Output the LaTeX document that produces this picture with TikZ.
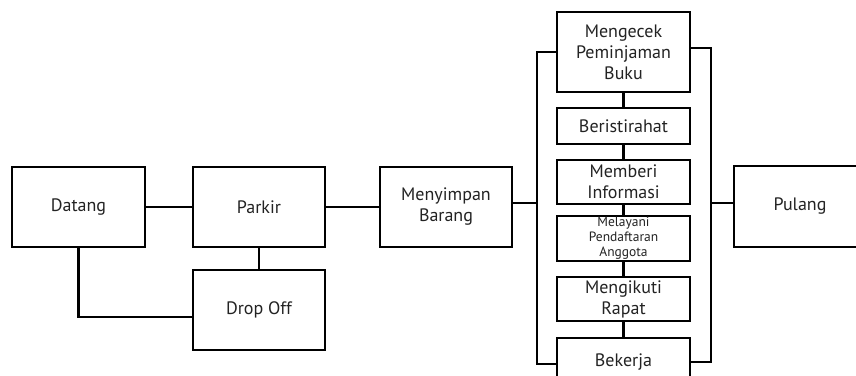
\documentclass[tikz,border=0pt]{standalone}
\usepackage{fontspec}
\setmainfont{PT Sans}
\usepackage{tikz}
\usetikzlibrary{positioning,calc}
\definecolor{inkgray}{RGB}{35,35,35}

\begin{document}
\begin{tikzpicture}[x=1pt,y=-1pt,
    stepbox/.style={draw=black,line width=2.2pt,fill=white,align=center,
      text=inkgray,font=\fontsize{18}{21}\selectfont,inner sep=0pt},
    link/.style={draw=black,line width=2.2pt}]
  \useasboundingbox (0,0) rectangle (856,375);
  % left part of the flow
  \node[stepbox,minimum width=133pt,minimum height=80pt] (datang) at (78.5,207) {Datang};
  \node[stepbox,minimum width=132pt,minimum height=80pt] (parkir) at (259,207) {Parkir};
  \node[stepbox,minimum width=132pt,minimum height=80pt] (drop) at (259,310) {Drop Off};
  \node[stepbox,minimum width=132pt,minimum height=80pt] (simpan) at (446,207) {Menyimpan\\Barang};
  % column of tasks
  \node[stepbox,minimum width=133pt,minimum height=80pt] (cek) at (623.5,52) {Mengecek\\Peminjaman\\Buku};
  \node[stepbox,minimum width=133pt,minimum height=36pt] (rehat) at (623.5,126) {Beristirahat};
  \node[stepbox,minimum width=133pt,minimum height=44pt] (info) at (623.5,182) {Memberi\\Informasi};
  \node[stepbox,minimum width=133pt,minimum height=45pt,
    font=\fontsize{13.5}{15}\selectfont] (layani) at (623.5,238.5) {Melayani\\Pendaftaran\\Anggota};
  \node[stepbox,minimum width=133pt,minimum height=44pt] (rapat) at (623.5,299) {Mengikuti\\Rapat};
  \node[stepbox,minimum width=133pt,minimum height=48pt,anchor=north] (kerja) at (623.5,337) {\raisebox{4pt}{Bekerja}};
  \node[stepbox,minimum width=132pt,minimum height=81pt] (pulang) at (800,206.5) {Pulang};
  % bus lines
  \coordinate (busL) at (537,202);
  \coordinate (busR) at (711,203);
  \draw[link] (datang.east) -- (parkir.west);
  \draw[link] (datang.south) |- ([yshift=-7pt]drop.west);
  \draw[link] (parkir.south) -- (drop.north);
  \draw[link] (parkir.east) -- (simpan.west);
  \draw[link] ([yshift=4pt]simpan.east) -- ([yshift=4pt]simpan.east -| busL);
  \draw[link] (busR) -- (busR -| pulang.west);
  \draw[link] (cek.west) -- (cek.west -| busL) -- ([yshift=-2pt]kerja.west -| busL) -- ([yshift=-2pt]kerja.west);
  \draw[link] ([yshift=4pt]cek.east) -- ([yshift=4pt]cek.east -| busR) -- (kerja.east -| busR) -- (kerja.east);
  \foreach \a/\b in {cek/rehat,rehat/info,info/layani,layani/rapat,rapat/kerja}
    \draw[link] (\a.south) -- (\b.north);
\end{tikzpicture}
\end{document}
